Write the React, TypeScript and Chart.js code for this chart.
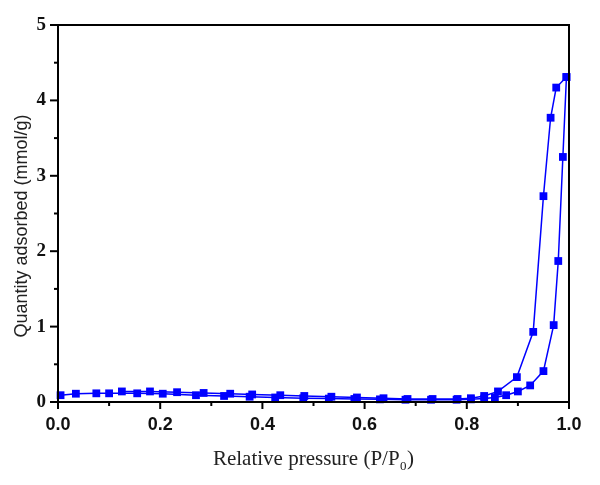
import React, { useEffect, useRef } from "react";
import { Chart, registerables } from "chart.js";

Chart.register(...registerables);

// Adsorption branch (lower branch at high pressure)
const adsX = [0.005, 0.035, 0.075, 0.10, 0.155, 0.205, 0.27, 0.325, 0.375, 0.425, 0.48, 0.53, 0.58, 0.63, 0.68, 0.73, 0.78, 0.808, 0.834, 0.855, 0.877, 0.90, 0.924, 0.95, 0.97, 0.979, 0.988, 0.995];
const adsY = [0.09, 0.11, 0.115, 0.115, 0.115, 0.11, 0.09, 0.08, 0.07, 0.06, 0.05, 0.045, 0.04, 0.035, 0.03, 0.03, 0.03, 0.035, 0.045, 0.06, 0.09, 0.14, 0.22, 0.41, 1.02, 1.87, 3.25, 4.31];

// Desorption branch (upper branch at high pressure)
const desX = [0.995, 0.975, 0.964, 0.95, 0.93, 0.898, 0.861, 0.834, 0.808, 0.782, 0.733, 0.684, 0.637, 0.585, 0.535, 0.482, 0.435, 0.38, 0.337, 0.285, 0.233, 0.18, 0.125];
const desY = [4.31, 4.17, 3.77, 2.73, 0.93, 0.33, 0.14, 0.08, 0.05, 0.04, 0.04, 0.04, 0.05, 0.06, 0.07, 0.08, 0.09, 0.1, 0.11, 0.12, 0.13, 0.14, 0.14];

const xTicks = [0, 0.2, 0.4, 0.6, 0.8, 1.0];
const yTicks = [0, 1, 2, 3, 4, 5];

const xTitle = "Relative pressure (P/P";
const xTitleSub = "0";
const yTitle = "Quantity adsorbed (mmol/g)";

const BLUE = "#0000ff";

const framePlugin = {
  id: "framePlugin",
  afterDraw(chart: any) {
    const { ctx, chartArea } = chart;
    const { left, right, top, bottom } = chartArea;
    const xs = chart.scales.x;
    const ys = chart.scales.y;
    ctx.save();
    ctx.strokeStyle = "#000";
    ctx.lineWidth = 2;
    ctx.strokeRect(left, top, right - left, bottom - top);
    // x ticks
    for (let i = 0; i <= 10; i++) {
      const px = xs.getPixelForValue(i / 10);
      const len = i % 2 === 0 ? 7 : 4;
      ctx.beginPath();
      ctx.moveTo(px, bottom);
      ctx.lineTo(px, bottom + len);
      ctx.stroke();
    }
    // y ticks
    for (let i = 0; i <= 10; i++) {
      const py = ys.getPixelForValue(i / 2);
      const len = i % 2 === 0 ? 8 : 4;
      ctx.beginPath();
      ctx.moveTo(left, py);
      ctx.lineTo(left - len, py);
      ctx.stroke();
    }
    // x title with subscript
    ctx.fillStyle = "#222";
    ctx.textBaseline = "alphabetic";
    ctx.textAlign = "left";
    ctx.font = "21px 'Liberation Serif', serif";
    const w1 = ctx.measureText(xTitle).width;
    ctx.font = "13px 'Liberation Serif', serif";
    const wSub = ctx.measureText(xTitleSub).width;
    ctx.font = "21px 'Liberation Serif', serif";
    const wParen = ctx.measureText(")").width;
    const total = w1 + wSub + wParen + 1;
    const cx = (left + right) / 2;
    let x0 = cx - total / 2;
    const base = 465;
    ctx.fillText(xTitle, x0, base);
    x0 += w1 + 0.5;
    ctx.font = "13px 'Liberation Serif', serif";
    ctx.fillText(xTitleSub, x0, base + 5);
    x0 += wSub + 0.5;
    ctx.font = "21px 'Liberation Serif', serif";
    ctx.fillText(")", x0, base);
    // y title
    ctx.save();
    ctx.translate(22, 226);
    ctx.rotate(-Math.PI / 2);
    ctx.textAlign = "center";
    ctx.textBaseline = "middle";
    ctx.font = "18px 'Liberation Sans', Arial, sans-serif";
    ctx.fillStyle = "#222";
    ctx.fillText(yTitle, 0, 0);
    ctx.restore();
    ctx.restore();
  },
};

export default function App() {
  const ref = useRef<HTMLCanvasElement | null>(null);
  useEffect(() => {
    document.body.style.margin = "0";
    const canvas = ref.current;
    if (!canvas) return;
    const pts = (xs: number[], ys: number[]) => xs.map((x, i) => ({ x, y: ys[i] }));
    const common = {
      showLine: true,
      borderColor: BLUE,
      backgroundColor: BLUE,
      borderWidth: 1.5,
      pointStyle: "rect",
      pointRadius: 5.5,
      pointHoverRadius: 5.5,
      pointBorderWidth: 0,
      clip: false,
    };
    const chart = new Chart(canvas, {
      type: "scatter",
      data: {
        datasets: [
          { label: "Adsorption", data: pts(adsX, adsY), ...common } as any,
          { label: "Desorption", data: pts(desX, desY), ...common } as any,
        ],
      },
      options: {
        animation: false,
        responsive: false,
        devicePixelRatio: 1,
        layout: { padding: { left: 0, right: 31, top: 25, bottom: 0 } },
        plugins: { legend: { display: false }, tooltip: { enabled: false }, title: { display: false } },
        scales: {
          x: {
            type: "linear",
            min: 0,
            max: 1,
            border: { display: false },
            grid: { display: false, drawTicks: false, tickLength: 0 },
            afterBuildTicks: (s: any) => {
              s.ticks = xTicks.map((v) => ({ value: v }));
            },
            afterFit: (s: any) => {
              s.height = 83;
            },
            ticks: {
              padding: 12,
              color: "#111",
              font: { family: "'Liberation Sans', Arial, sans-serif", size: 18, weight: "bold" },
              callback: (v: any) => Number(v).toFixed(1),
              maxRotation: 0,
            },
          },
          y: {
            type: "linear",
            min: 0,
            max: 5,
            border: { display: false },
            grid: { display: false, drawTicks: false, tickLength: 0 },
            afterBuildTicks: (s: any) => {
              s.ticks = yTicks.map((v) => ({ value: v }));
            },
            afterFit: (s: any) => {
              s.width = 58;
            },
            ticks: {
              padding: 12,
              color: "#111",
              font: { family: "'Liberation Serif', serif", size: 19, weight: "bold" },
              callback: (v: any) => String(v),
            },
          },
        },
      },
      plugins: [framePlugin],
    } as any);
    return () => chart.destroy();
  }, []);
  return (
    <div style={{ width: 600, height: 485, background: "#fff" }}>
      <canvas ref={ref} width={600} height={485} style={{ display: "block" }} />
    </div>
  );
}
